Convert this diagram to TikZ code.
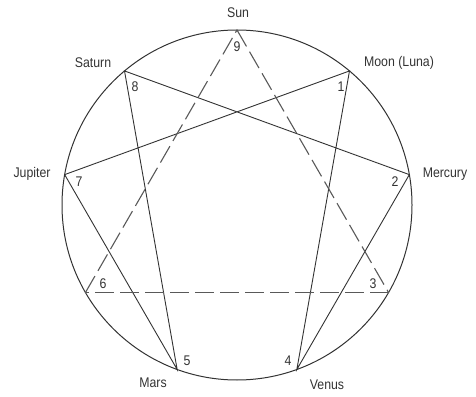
\documentclass[tikz,border=0pt]{standalone}
\usepackage{fontspec}
\setmainfont{Liberation Sans}[FakeStretch=0.88]
\usetikzlibrary{calc}
\begin{document}
\begin{tikzpicture}[x=1pt,y=1pt,
  lbl/.style={inner sep=0pt,font=\fontsize{14}{16}\selectfont,text=black!80},
  num/.style={inner sep=0pt,font=\fontsize{14}{16}\selectfont,text=black!80},
  solidline/.style={draw=black!80,line width=0.9pt},
  dashline/.style={draw=black!65,line width=1.1pt,dash pattern=on 19pt off 6pt}]
\useasboundingbox (0,0) rectangle (476,396);
\coordinate (c) at (237,191);
\draw[black!80,line width=1pt] (c) circle[radius=175];
\foreach \k in {1,...,9}{
  \coordinate (p\k) at ($(c)+({90-40*\k}:175)$);
}
% solid hexad 1-4-2-8-5-7-1
\draw[solidline] (p1) -- (p4) -- (p2) -- (p8) -- (p5) -- (p7) -- cycle;
% dashed triangle 9-3-6
\draw[dashline] (p9) -- (p3);
\draw[dashline] (p3) -- (p6);
\draw[dashline] (p6) -- (p9);
% planet labels
\node[lbl] (sun) at (238,383) {Sun};
\node[lbl] (moon) at (399,333) {Moon (Luna)};
\node[lbl] (mercury) at (445,222) {Mercury};
\node[lbl] (venus) at (327,11) {Venus};
\node[lbl] (mars) at (153,13) {Mars};
\node[lbl] (jupiter) at (32,222) {Jupiter};
\node[lbl] (saturn) at (93,333) {Saturn};
% numbers
\node[num] (n9) at (237,349) {9};
\node[num] (n1) at (341,309) {1};
\node[num] (n2) at (395,214) {2};
\node[num] (n3) at (373,112) {3};
\node[num] (n4) at (288,35) {4};
\node[num] (n5) at (187,35) {5};
\node[num] (n6) at (103,112) {6};
\node[num] (n7) at (79,214) {7};
\node[num] (n8) at (135,309) {8};
\end{tikzpicture}
\end{document}
